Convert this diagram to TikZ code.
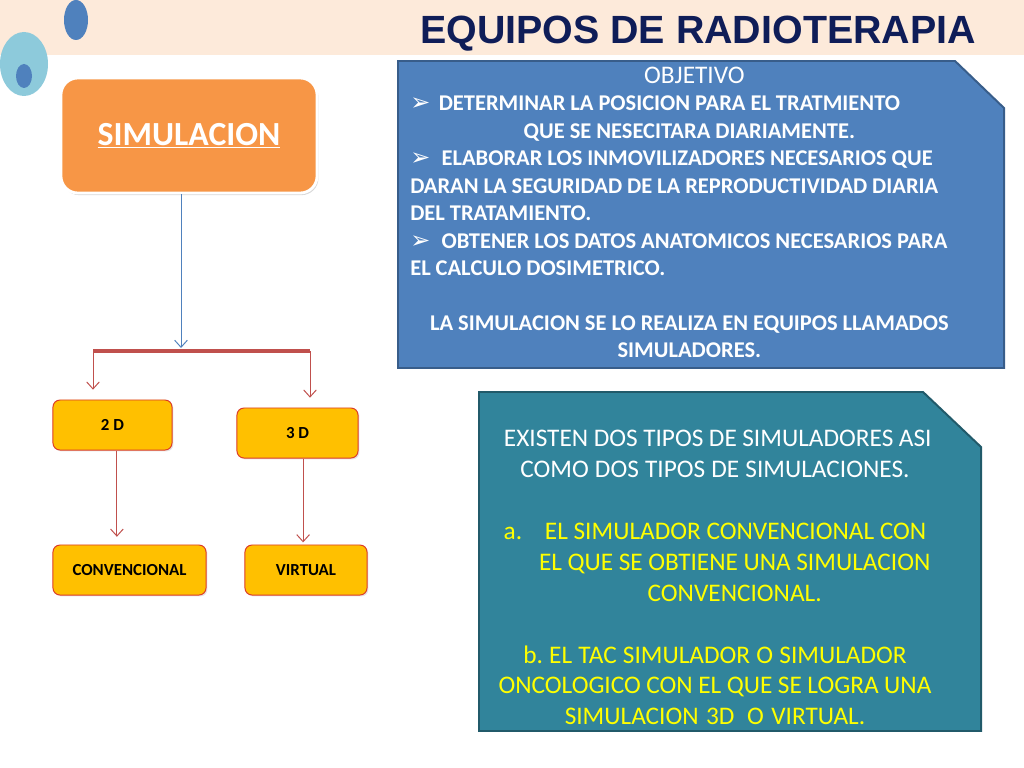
\documentclass[tikz,border=0pt]{standalone}
\usepackage{fontspec}
\setmainfont{Carlito}
\newfontfamily\titlefont{Liberation Sans}
\newfontfamily\symfont{DejaVu Sans}
\usepackage{xcolor}
\usetikzlibrary{arrows.meta,shadows}
\frenchspacing

\definecolor{franja}{HTML}{FDEADA}
\definecolor{azulosc}{HTML}{4F81BD}
\definecolor{celeste}{HTML}{8DCADB}
\definecolor{titulo}{HTML}{0F1D58}
\definecolor{naranja}{HTML}{F79646}
\definecolor{rojo}{HTML}{C0504D}
\definecolor{amarillo}{HTML}{FFC000}
\definecolor{bordeam}{HTML}{DC3C28}
\definecolor{azulcaja}{HTML}{4F81BD}
\definecolor{bordeaz}{HTML}{385D8A}
\definecolor{verdeazul}{HTML}{31849B}
\definecolor{bordeve}{HTML}{215A6A}
\definecolor{letraam}{HTML}{FFFF00}

\newcommand{\flechita}{{\symfont\fontsize{17}{17}\selectfont\char"27A2}}
\newcommand{\espacios}[1]{\spaceskip=#1\fontdimen2\font plus 0.5\fontdimen3\font minus 0.5\fontdimen4\font\relax}

\begin{document}
\begin{tikzpicture}[x=0.025cm,y=-0.025cm,
  simbox/.style={rectangle, rounded corners=12pt, fill=naranja, draw=white, line width=2pt,
    minimum width=6.4cm, minimum height=2.875cm, text=white,
    font=\fontsize{24}{28}\selectfont\bfseries,
    drop shadow={opacity=0.3, shadow xshift=1pt, shadow yshift=-1.5pt}},
  tipobox/.style={rectangle, rounded corners=5pt, fill=amarillo, draw=bordeam, line width=0.7pt,
    minimum height=1.25cm, font=\fontsize{12}{14}\selectfont\bfseries,
    drop shadow={opacity=0.2, shadow xshift=1pt, shadow yshift=-1pt}},
  flecha/.style={-{Straight Barb[length=5pt,width=9pt]}, rojo, line width=0.7pt},
  flechaaz/.style={-{Straight Barb[length=5pt,width=9pt]}, azulosc, line width=0.7pt},
  barra/.style={rojo, line width=3pt},
  objtext/.style={anchor=base west, inner sep=0pt, text width=13.95cm, align=left, text=white,
    font=\fontsize{16}{19.5}\selectfont\bfseries},
  tiptext/.style={anchor=base, inner sep=0pt, text width=11.5cm, align=center, text=white,
    font=\fontsize{18}{22}\selectfont}
]
\useasboundingbox (0,0) rectangle (1024,768);
\fill[white] (0,0) rectangle (1024,768);

%% header band and circles
\fill[franja] (0,0) rectangle (1024,55);
\fill[azulosc] (76,20) ellipse [x radius=12, y radius=20];
\fill[celeste] (24,64) ellipse [x radius=24, y radius=32];
\fill[azulosc] (24,76) ellipse [x radius=8, y radius=12];
\node[anchor=base, inner sep=0pt, text=titulo, font=\titlefont\fontsize{28}{30}\selectfont\bfseries]
  (titulo) at (698,44) {EQUIPOS DE RADIOTERAPIA};

%% left tree
\node[simbox] (sim) at (189,135.5) {\underline{SIMULACION}};

\coordinate (bl) at (93,351);
\coordinate (br) at (310,351);
\coordinate (bm) at (181,348);

\node[tipobox, minimum width=2.975cm] (d2) at (112.5,425) {2 D};
\node[tipobox, minimum width=3.025cm] (d3) at (297.5,433) {3 D};
\node[tipobox, minimum width=3.825cm] (conv) at (129.5,570) {CONVENCIONAL};
\node[tipobox, minimum width=3.05cm] (virt) at (306,570) {VIRTUAL};

\draw[flechaaz] (sim.south -| bm) -- (bm);
\draw[barra] (bl) -- (br);
\draw[flecha, shorten >=7pt] (bl) -- (bl |- d2.north);
\draw[flecha, shorten >=7pt] (br) -- (br |- d3.north);
\draw[flecha, shorten >=5.5pt] ([xshift=0.11cm]d2.south) -- ([xshift=0.11cm]d2.south |- conv.north);
\draw[flecha, shorten >=1.5pt] ([xshift=0.14cm]d3.south) -- ([xshift=0.14cm]d3.south |- virt.north);

%% OBJETIVO box
\draw[fill=azulcaja, draw=bordeaz, line width=1.4pt]
  (398,61) -- (955,61) -- (1004,108) -- (1004,368) -- (398,368) -- cycle;
\node[objtext] (objetivo) at (410,83.5) {\espacios{0.97}
{\centering\fontsize{18}{19.5}\selectfont\mdseries\espacios{0.9} OBJETIVO\par}
\flechita\hspace{6pt}DETERMINAR LA POSICION PARA EL TRATMIENTO\par
{\centering QUE SE NESECITARA DIARIAMENTE.\par}
\flechita\enspace ELABORAR LOS INMOVILIZADORES NECESARIOS QUE\par
DARAN LA SEGURIDAD DE LA REPRODUCTIVIDAD DIARIA\par
DEL TRATAMIENTO.\par
\flechita\enspace OBTENER LOS DATOS ANATOMICOS NECESARIOS PARA\par
EL CALCULO DOSIMETRICO.\par
\vspace{19.5pt}
{\centering LA SIMULACION SE LO REALIZA EN EQUIPOS LLAMADOS\par SIMULADORES.\par}};

%% tipos de simuladores box
\draw[fill=verdeazul, draw=bordeve, line width=1.4pt]
  (479,392) -- (923,392) -- (981,447) -- (981,731) -- (479,731) -- cycle;
\node[tiptext] (tipos) at (715,446.5) {\espacios{0.9}
EXISTEN DOS TIPOS DE SIMULADORES ASI\\
COMO DOS TIPOS DE SIMULACIONES.\\[22pt]
\color{letraam}a.\hspace{0.9em}EL SIMULADOR CONVENCIONAL CON\\
\hspace*{28pt}EL QUE SE OBTIENE UNA SIMULACION\\
\hspace*{28pt}CONVENCIONAL.\\[22pt]
b. EL TAC SIMULADOR O SIMULADOR\\
ONCOLOGICO CON EL QUE SE LOGRA UNA\\
SIMULACION 3D\enspace O VIRTUAL.};
\end{tikzpicture}
\end{document}
